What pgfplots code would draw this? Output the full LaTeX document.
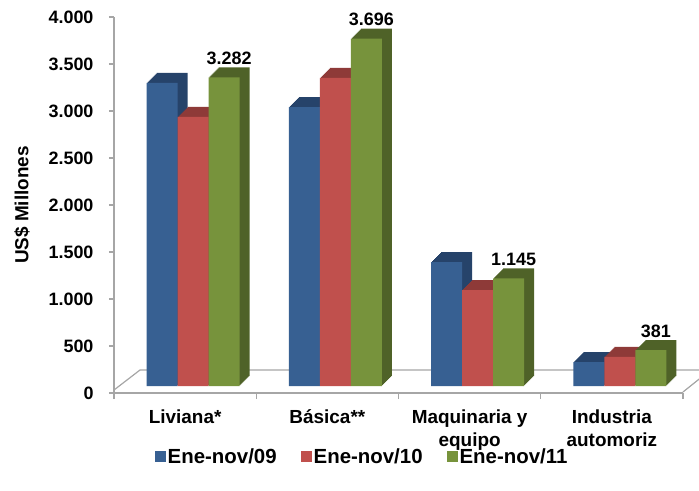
\documentclass[border=0pt]{standalone}
\usepackage{fontspec}
\setmainfont{Liberation Sans}
\usepackage{pgfplots}
\pgfplotsset{compat=1.18}
\usepackage{pgfplotstable}
\usetikzlibrary{calc}

\definecolor{cB}{HTML}{376092}
\definecolor{cBd}{HTML}{26436A}
\definecolor{cR}{HTML}{C0504D}
\definecolor{cRd}{HTML}{8E3A38}
\definecolor{cG}{HTML}{77933C}
\definecolor{cGd}{HTML}{4F6228}
\definecolor{axc}{HTML}{A6A6A6}

\pgfplotstableread{
x y
0 3225
1 2968
2 1319
3 255
}\tblA
\pgfplotstableread{
x y
0 2862
1 3277
2 1021
3 309
}\tblB
\pgfplotstableread{
x y
0 3282
1 3696
2 1145
3 381
}\tblC

\begin{document}
\begin{tikzpicture}
\begin{axis}[
  scale only axis, width=569bp, height=376bp,
  xmin=-0.5, xmax=3.5, ymin=0, ymax=4000,
  axis lines*=left,
  axis line style={draw=axc, line width=1.2bp},
  ybar, bar width=31bp,
  xtick={0,1,2,3},
  xticklabels={Liviana*, Básica**, {Maquinaria y\\[1bp]equipo}, {Industria\\[1bp]automoriz}},
  minor xtick={-0.5,0.5,1.5,2.5,3.5},
  every major x tick/.append style={draw=none},
  every minor x tick/.append style={draw=axc, line width=1.2bp},
  minor tick length=6bp,
  major tick length=5bp,
  tick align=outside,
  every major y tick/.append style={draw=axc, line width=1.2bp},
  ytick={0,500,...,4000},
  /pgf/number format/.cd, 1000 sep={.}, assume math mode=true,
  /pgfplots/.cd,
  yticklabel style={font=\fontsize{18}{20}\selectfont\bfseries, xshift=-12bp},
  xticklabel style={font=\fontsize{19}{22}\selectfont\bfseries, align=center, yshift=-8bp},
  ylabel={US\$ Millones},
  every axis y label/.style={at={([xshift=-92bp]rel axis cs:0,0.5)}, rotate=90, anchor=center,
    font=\fontsize{19}{20}\selectfont\bfseries},
  legend columns=3,
  legend style={draw=none, fill=none, at={(0.436,0)}, anchor=north, yshift=-52bp,
    font=\fontsize{20.5}{22}\selectfont\bfseries,
    /tikz/every even column/.append style={column sep=22bp}},
  legend image code/.code={\fill[#1,draw=none] (0bp,-12bp) rectangle (11bp,-1bp);},
  clip=false,
]
\coordinate (O) at (rel axis cs:0,0);
% floor
\draw[axc, line width=1.2bp] ([yshift=3bp]rel axis cs:0,0) -- ([shift={(26bp,23bp)}]rel axis cs:0,0) -- ([shift={(20bp,23bp)}]rel axis cs:1,0);
\draw[axc, line width=1.2bp] ([yshift=1bp]rel axis cs:1,0) -- ([shift={(20bp,17bp)}]rel axis cs:1,0);
% depth faces
\pgfplotsinvokeforeach{1,2,3,4,5,6,7,8,9,10}{
  \addplot[forget plot, fill=cBd, draw=none, bar shift={-23bp+#1bp}, yshift={7bp+#1bp}] table {\tblA};
}
\pgfplotsinvokeforeach{1,2,3,4,5,6,7,8,9,10}{
  \addplot[forget plot, fill=cRd, draw=none, bar shift={8bp+#1bp}, yshift={7bp+#1bp}] table {\tblB};
}
\pgfplotsinvokeforeach{1,2,3,4,5,6,7,8,9,10}{
  \addplot[forget plot, fill=cGd, draw=none, bar shift={39bp+#1bp}, yshift={7bp+#1bp}] table {\tblC};
}
% front faces
\addplot[fill=cB, draw=none, bar shift=-23bp, yshift=7bp] table {\tblA};
\addlegendentry{Ene-nov/09}
\addplot[fill=cR, draw=none, bar shift=8bp, yshift=7bp] table {\tblB};
\addlegendentry{Ene-nov/10}
\addplot[fill=cG, draw=none, bar shift=39bp, yshift=7bp,
  nodes near coords,
  nodes near coords style={font=\fontsize{18}{20}\selectfont\bfseries, anchor=south, xshift=5bp, yshift=9bp, text=black}] table {\tblC};
\addlegendentry{Ene-nov/11}
\end{axis}
\pgfresetboundingbox
\path[use as bounding box] ($(O)+(-114bp,-98bp)$) rectangle ($(O)+(585bp,393bp)$);
\end{tikzpicture}
\end{document}
